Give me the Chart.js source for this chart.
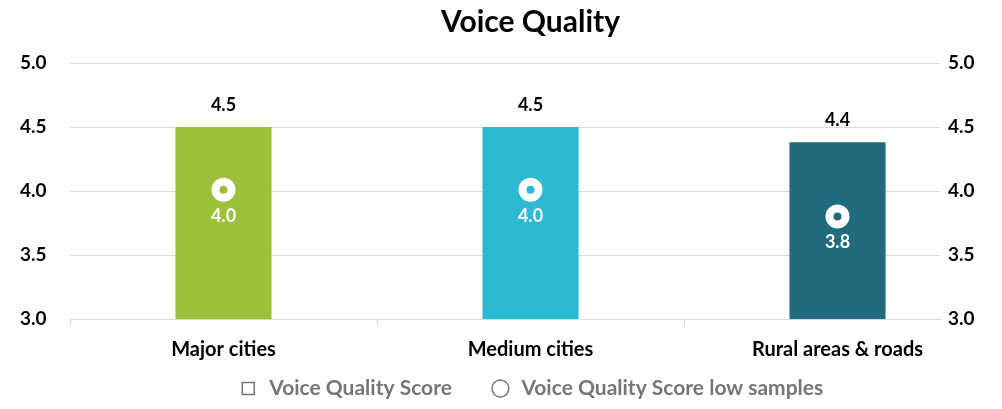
<!DOCTYPE html>
<html>
<head>
<meta charset="utf-8">
<script src="https://cdn.jsdelivr.net/npm/chart.js@4.4.0/dist/chart.umd.min.js"></script>
<style>
  body { margin: 0; background: #fff; }
</style>
</head>
<body>
<canvas id="voiceChart" width="1002" height="409"></canvas>
<script>
const categories = ['Major cities', 'Medium cities', 'Rural areas & roads'];
const scoreValues = [4.5, 4.5, 4.38];
const lowSampleValues = [4.01, 4.01, 3.8];
const barColors = ['#9bc13b', '#2db8d3', '#216b7e'];
const seriesNames = ['Voice Quality Score', 'Voice Quality Score low samples'];
const yTicks = [3.0, 3.5, 4.0, 4.5, 5.0];

const FONT = 'Lato';
const GRID = '#d9d9d9';
const LEGEND_GRAY = '#767676';
// plot area is 870px wide but each category takes 307px (last one runs past the axis)
const X_SPAN = 870 / 307;

// value labels above the bars and under the markers
const valueLabels = {
  id: 'valueLabels',
  afterDatasetsDraw(chart) {
    const ctx = chart.ctx;
    ctx.save();
    ctx.textAlign = 'center';
    ctx.textBaseline = 'middle';
    ctx.font = 'bold 18px ' + FONT;
    chart.getDatasetMeta(0).data.forEach((bar, i) => {
      ctx.fillStyle = '#000';
      ctx.fillText(scoreValues[i].toFixed(1), bar.x, bar.y - 22);
    });
    chart.getDatasetMeta(1).data.forEach((pt, i) => {
      ctx.fillStyle = '#fff';
      ctx.fillText(lowSampleValues[i].toFixed(1), pt.x, pt.y + 26);
    });
    ctx.restore();
  }
};

const tickFont = { family: FONT, size: 19, weight: 'bold' };

new Chart(document.getElementById('voiceChart'), {
  type: 'bar',
  data: {
    labels: categories,
    datasets: [{
      label: seriesNames[0],
      data: scoreValues,
      backgroundColor: barColors,
      barPercentage: 0.313,
      categoryPercentage: 1,
      order: 2
    }, {
      type: 'line',
      label: seriesNames[1],
      data: lowSampleValues,
      showLine: false,
      pointStyle: 'circle',
      pointRadius: 8,
      pointHoverRadius: 8,
      pointBorderWidth: 8,
      pointBorderColor: '#fff',
      pointBackgroundColor: 'rgba(0,0,0,0)',
      order: 1
    }]
  },
  options: {
    responsive: false,
    animation: false,
    layout: { padding: { left: 59, right: 0, top: 0, bottom: 0 } },
    plugins: {
      title: {
        display: true,
        text: 'Voice Quality',
        color: '#000',
        font: { family: FONT, size: 30, weight: 'bold' },
        padding: { top: 4, bottom: 23 }
      },
      legend: {
        position: 'bottom',
        labels: {
          usePointStyle: true,
          boxHeight: 12,
          padding: 38,
          color: LEGEND_GRAY,
          font: { family: FONT, size: 21, weight: 'bold' },
          generateLabels: () => seriesNames.map((name, i) => ({
            text: name,
            pointStyle: i === 0 ? 'rect' : 'circle',
            fillStyle: 'rgba(0,0,0,0)',
            strokeStyle: LEGEND_GRAY,
            lineWidth: 1.5,
            fontColor: LEGEND_GRAY,
            datasetIndex: i,
            hidden: false
          }))
        }
      },
      tooltip: { enabled: false }
    },
    scales: {
      x: {
        offset: true,
        afterBuildTicks: s => { s._valueRange = X_SPAN; },
        afterFit: s => { s.height = 21; },
        grid: { drawOnChartArea: false, drawTicks: true, tickLength: 6, color: GRID },
        border: { color: GRID },
        // mirror keeps the labels from being clipped to the thin axis box
        ticks: { color: '#000', font: { family: FONT, size: 20, weight: 'bold' }, mirror: true, padding: -42.5, maxRotation: 0, autoSkip: false }
      },
      y: {
        min: yTicks[0],
        max: yTicks[yTicks.length - 1],
        afterFit: s => { s.width = 11; },
        afterBuildTicks: s => { s.ticks = yTicks.map(v => ({ value: v })); },
        grid: { color: GRID, drawTicks: false },
        border: { display: false },
        ticks: { color: '#000', font: tickFont, mirror: true, padding: -50, callback: v => v.toFixed(1) }
      },
      y2: {
        position: 'right',
        min: yTicks[0],
        max: yTicks[yTicks.length - 1],
        afterFit: s => { s.width = 62; },
        afterBuildTicks: s => { s.ticks = yTicks.map(v => ({ value: v })); },
        grid: { display: false, drawTicks: false },
        border: { display: false },
        ticks: { color: '#000', font: tickFont, padding: 8, callback: v => v.toFixed(1) }
      }
    }
  },
  plugins: [valueLabels]
});
</script>
</body>
</html>
